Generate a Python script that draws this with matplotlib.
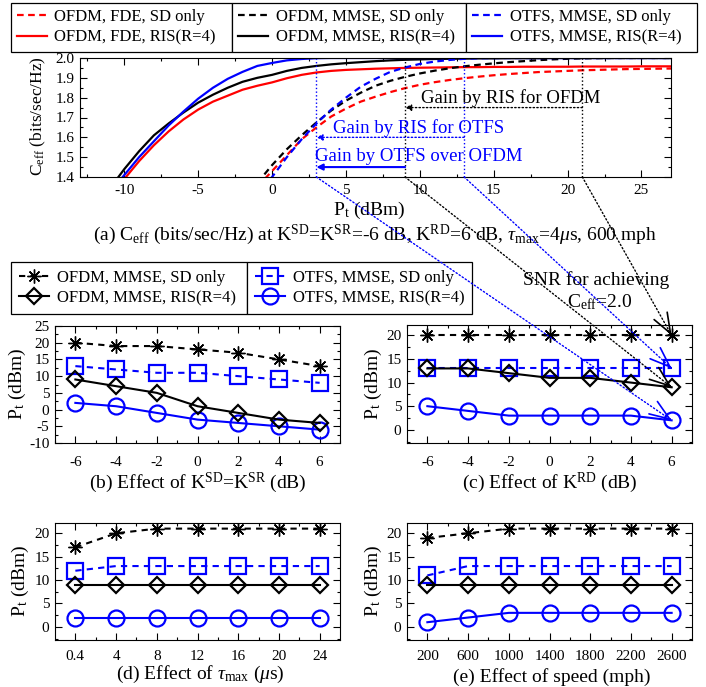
import numpy as np
import matplotlib
matplotlib.use('Agg')
import matplotlib.pyplot as plt
from matplotlib.lines import Line2D
from matplotlib.patches import ConnectionPatch
from matplotlib.ticker import MultipleLocator, FixedLocator

plt.rcParams['font.family'] = ['Liberation Serif', 'DejaVu Serif']
plt.rcParams['mathtext.fontset'] = 'custom'
plt.rcParams['mathtext.rm'] = 'Liberation Serif'
plt.rcParams['mathtext.it'] = 'Liberation Serif:italic'
plt.rcParams['axes.unicode_minus'] = False

W, H = 706, 687

# ---- (a) C_eff vs P_t (dBm) ----
pt_ris = [-11, -10, -9, -8, -7, -6, -5, -4, -3, -2, -1, 0, 1, 2, 3, 4, 5, 6, 7, 8,
          9, 10, 11, 12, 13, 14, 15, 16, 17, 18, 19, 20, 21, 22, 23, 24, 25, 26, 27]
fde_ris = [1.29, 1.39, 1.48, 1.56, 1.63, 1.69, 1.74, 1.78, 1.81, 1.84,
           1.86, 1.877, 1.898, 1.915, 1.927, 1.935, 1.94, 1.943, 1.946, 1.948,
           1.95, 1.951, 1.952, 1.953, 1.954, 1.954, 1.955, 1.955, 1.956, 1.956,
           1.956, 1.956, 1.957, 1.957, 1.957, 1.957, 1.958, 1.958, 1.958]
mmse_ris = [1.34, 1.44, 1.53, 1.61, 1.67, 1.725, 1.775, 1.815, 1.85, 1.88,
            1.90, 1.915, 1.935, 1.95, 1.96, 1.968, 1.974, 1.979, 1.984, 1.988,
            1.991, 1.993, 1.995, 1.996, 1.997, 1.998, 1.998, 1.999, 1.999, 1.999,
            2.0, 2.0, 2.0, 2.0, 2.0, 2.0, 2.0, 2.0, 2.0]
otfs_ris = [1.32, 1.41, 1.50, 1.58, 1.66, 1.73, 1.795, 1.85, 1.895, 1.93,
            1.96, 1.975, 1.988, 1.995, 1.999, 2.0, 2.0, 2.0, 2.0, 2.0,
            2.0, 2.0, 2.0, 2.0, 2.0, 2.0, 2.0, 2.0, 2.0, 2.0,
            2.0, 2.0, 2.0, 2.0, 2.0, 2.0, 2.0, 2.0, 2.0]

pt_sd = [-1, 0, 1, 2, 3, 4, 5, 6, 7, 8, 9, 10, 11, 12, 13, 14, 15, 16, 17, 18,
         19, 20, 21, 22, 23, 24, 25, 26, 27]
fde_sd = [1.35, 1.43, 1.51, 1.59, 1.65, 1.705, 1.745, 1.78, 1.805, 1.828,
          1.848, 1.865, 1.878, 1.889, 1.898, 1.906, 1.913, 1.919, 1.924, 1.929,
          1.932, 1.935, 1.938, 1.94, 1.942, 1.944, 1.945, 1.946, 1.947]
mmse_sd = [1.37, 1.46, 1.54, 1.61, 1.675, 1.735, 1.785, 1.825, 1.86, 1.885,
           1.905, 1.922, 1.936, 1.948, 1.958, 1.966, 1.973, 1.979, 1.984, 1.989,
           1.993, 1.996, 1.998, 1.999, 2.0, 2.0, 2.0, 2.0, 2.0]
otfs_sd = [1.30, 1.40, 1.50, 1.59, 1.67, 1.74, 1.80, 1.855, 1.895, 1.93,
           1.952, 1.97, 1.982, 1.99, 1.996, 1.999, 2.0, 2.0, 2.0, 2.0,
           2.0, 2.0, 2.0, 2.0, 2.0, 2.0, 2.0, 2.0, 2.0]

# P_t needed for C_eff = 2.0
snr_otfs_ris = 3
snr_ofdm_ris = 9
snr_otfs_sd = 13
snr_ofdm_sd = 21

# ---- (b)-(e) P_t (dBm) needed ----
k_sd = [-6, -4, -2, 0, 2, 4, 6]
b_ofdm_sd = [20, 19, 19, 18, 17, 15, 13]
b_otfs_sd = [13, 12, 11, 11, 10, 9, 8]
b_ofdm_ris = [9, 7, 5, 1, -1, -3, -4]
b_otfs_ris = [2, 1, -1, -3, -4, -5, -6]

k_rd = [-6, -4, -2, 0, 2, 4, 6]
c_ofdm_sd = [20, 20, 20, 20, 20, 20, 20]
c_otfs_sd = [13, 13, 13, 13, 13, 13, 13]
c_ofdm_ris = [13, 13, 12, 11, 11, 10, 9]
c_otfs_ris = [5, 4, 3, 3, 3, 3, 2]

tau_labels = ['0.4', '4', '8', '12', '16', '20', '24']
d_ofdm_sd = [17, 20, 21, 21, 21, 21, 21]
d_otfs_sd = [12, 13, 13, 13, 13, 13, 13]
d_ofdm_ris = [9, 9, 9, 9, 9, 9, 9]
d_otfs_ris = [2, 2, 2, 2, 2, 2, 2]

speed_labels = ['200', '600', '1000', '1400', '1800', '2200', '2600']
e_ofdm_sd = [19, 20, 21, 21, 21, 21, 21]
e_otfs_sd = [11, 13, 13, 13, 13, 13, 13]
e_ofdm_ris = [9, 9, 9, 9, 9, 9, 9]
e_otfs_ris = [1, 2, 3, 3, 3, 3, 3]

RED, BLUE, BLACK = '#ff0000', '#0000ff', '#000000'
DASH = (0, (3, 2))
STAR = (8, 2, 0)


def box(x0, y0, x1, y1):
    return [x0 / W, 1 - y1 / H, (x1 - x0) / W, (y1 - y0) / H]


def ftext(x, y, s, **kw):
    fig.text(x / W, 1 - y / H, s, **kw)


def style_ticks(ax, xpad=6):
    ax.tick_params(which='both', direction='in', top=True, right=True,
                   labelsize=11, width=0.8)
    ax.tick_params(which='major', length=5)
    ax.tick_params(which='minor', length=2.5)
    ax.tick_params(axis='x', pad=xpad)
    ax.tick_params(axis='y', pad=4)
    for s in ax.spines.values():
        s.set_linewidth(0.8)


fig = plt.figure(figsize=(7.06, 6.87), dpi=100)

# ---------------- panel (a) ----------------
ax_a = fig.add_axes(box(80, 58, 671, 177))
ax_a.plot(pt_sd, fde_sd, color=RED, ls=DASH, lw=1.6)
ax_a.plot(pt_ris, fde_ris, color=RED, lw=1.6)
ax_a.plot(pt_sd, mmse_sd, color=BLACK, ls=DASH, lw=1.6)
ax_a.plot(pt_ris, mmse_ris, color=BLACK, lw=1.6)
ax_a.plot(pt_sd, otfs_sd, color=BLUE, ls=DASH, lw=1.6)
ax_a.plot(pt_ris, otfs_ris, color=BLUE, lw=1.6)
ax_a.set_xlim(-13, 27)
ax_a.set_ylim(1.4, 2.0)
ax_a.xaxis.set_major_locator(MultipleLocator(5))
ax_a.xaxis.set_minor_locator(MultipleLocator(2.5))
ax_a.yaxis.set_major_locator(MultipleLocator(0.1))
ax_a.yaxis.set_minor_locator(MultipleLocator(0.05))
ax_a.yaxis.set_major_formatter(matplotlib.ticker.FormatStrFormatter('%.1f'))
style_ticks(ax_a, xpad=5)

for xv, col in [(snr_otfs_ris, BLUE), (snr_ofdm_ris, BLACK),
                (snr_otfs_sd, BLUE), (snr_ofdm_sd, BLACK)]:
    ax_a.plot([xv, xv], [1.4, 2.0], color=col, ls=':', lw=1)

ax_a.annotate('', xy=(snr_ofdm_ris, 1.75), xytext=(snr_ofdm_sd, 1.75),
              arrowprops=dict(arrowstyle='-|>', color=BLACK, ls=':', lw=1,
                              shrinkA=0, shrinkB=0, mutation_scale=9))
ax_a.annotate('', xy=(snr_otfs_ris, 1.6), xytext=(snr_otfs_sd, 1.6),
              arrowprops=dict(arrowstyle='-|>', color=BLUE, ls=':', lw=1,
                              shrinkA=0, shrinkB=0, mutation_scale=9))
ax_a.annotate('', xy=(snr_otfs_ris, 1.45), xytext=(snr_ofdm_ris, 1.45),
              arrowprops=dict(arrowstyle='-|>', color=BLUE, lw=1.5,
                              shrinkA=0, shrinkB=0, mutation_scale=9))
ax_a.text(10.1, 1.797, 'Gain by RIS for OFDM', color=BLACK, fontsize=13.5, va='center')
ax_a.text(4.1, 1.645, 'Gain by RIS for OTFS', color=BLUE, fontsize=13.5, va='center')
ax_a.text(2.9, 1.505, 'Gain by OTFS over OFDM', color=BLUE, fontsize=13.5, va='center')

ftext(38, 116, r'C$_{\rm eff}$ (bits/sec/Hz)', rotation=90, fontsize=12.5,
      ha='center', va='center')
ftext(369, 215, r'P$_{\rm t}$ (dBm)', fontsize=14, ha='center', va='baseline')
ftext(375, 240, r'(a) C$_{\rm eff}$ (bits/sec/Hz) at K$^{\rm SD}$=K$^{\rm SR}$=-6 dB, '
      r'K$^{\rm RD}$=6 dB, $\tau_{\rm max}$=4$\mu$s, 600 mph',
      fontsize=14, ha='center', va='baseline')

# top legend, three boxes side by side
leg_kw = dict(loc='upper left', mode='expand', borderaxespad=0, fontsize=12,
              handlelength=1.8, handletextpad=0.45, borderpad=0.36,
              labelspacing=0.28, fancybox=False, edgecolor='black', framealpha=1)
groups = [(RED, 'OFDM, FDE, SD only', 'OFDM, FDE, RIS(R=4)', 11, 232),
          (BLACK, 'OFDM, MMSE, SD only', 'OFDM, MMSE, RIS(R=4)', 232, 466),
          (BLUE, 'OTFS, MMSE, SD only', 'OTFS, MMSE, RIS(R=4)', 466, 697)]
for col, l1, l2, x0, x1 in groups:
    hs = [Line2D([], [], color=col, ls=DASH, lw=1.6), Line2D([], [], color=col, lw=1.6)]
    lg = fig.legend(hs, [l1, l2], bbox_to_anchor=(x0 / W, 1 - 52 / H, (x1 - x0) / W, 49 / H),
                    **leg_kw)
    lg.get_frame().set_linewidth(0.9)


# ---------------- panels (b)-(e) ----------------
def draw_panel(ax, x, s_ofdm_sd, s_otfs_sd, s_ofdm_ris, s_otfs_ris):
    ax.plot(x, s_ofdm_sd, color=BLACK, ls=(0, (3, 2.5)), lw=1.5, marker=STAR, ms=10, mew=1.0)
    ax.plot(x, s_otfs_sd, color=BLUE, ls=(0, (3, 2.5)), lw=1.5, marker='s', ms=11,
            mfc='none', mew=1.6)
    ax.plot(x, s_otfs_ris, color=BLUE, lw=1.5, marker='o', ms=11.5, mfc='none', mew=1.6)
    ax.plot(x, s_ofdm_ris, color=BLACK, lw=1.5, marker='D', ms=8, mfc='none', mew=1.6)


ax_b = fig.add_axes(box(55, 326, 340, 443))
draw_panel(ax_b, k_sd, b_ofdm_sd, b_otfs_sd, b_ofdm_ris, b_otfs_ris)
ax_b.set_xlim(-7, 7)
ax_b.set_ylim(-10, 25)
ax_b.xaxis.set_major_locator(MultipleLocator(2))
ax_b.xaxis.set_minor_locator(MultipleLocator(1))
ax_b.yaxis.set_major_locator(MultipleLocator(5))
ax_b.yaxis.set_minor_locator(MultipleLocator(2.5))
style_ticks(ax_b, xpad=9)

ax_c = fig.add_axes(box(407, 325, 692, 443))
draw_panel(ax_c, k_rd, c_ofdm_sd, c_otfs_sd, c_ofdm_ris, c_otfs_ris)
ax_c.set_xlim(-7, 7)
ax_c.set_ylim(-2.8, 22.2)
ax_c.xaxis.set_major_locator(MultipleLocator(2))
ax_c.xaxis.set_minor_locator(MultipleLocator(1))
ax_c.yaxis.set_major_locator(MultipleLocator(5))
ax_c.yaxis.set_minor_locator(MultipleLocator(2.5))
style_ticks(ax_c, xpad=9)

idx = np.arange(len(tau_labels))
for pos, labels, sd1, sd2, r1, r2 in [((55, 523, 340, 640), tau_labels, d_ofdm_sd, d_otfs_sd, d_ofdm_ris, d_otfs_ris),
                                      ((407, 523, 692, 640), speed_labels, e_ofdm_sd, e_otfs_sd, e_ofdm_ris, e_otfs_ris)]:
    ax = fig.add_axes(box(*pos))
    draw_panel(ax, idx, sd1, sd2, r1, r2)
    ax.set_xlim(-0.5, len(labels) - 0.5)
    ax.set_ylim(-2.8, 22.2)
    ax.xaxis.set_major_locator(FixedLocator(idx))
    ax.set_xticklabels(labels)
    ax.xaxis.set_minor_locator(FixedLocator(idx[:-1] + 0.5))
    ax.yaxis.set_major_locator(MultipleLocator(5))
    ax.yaxis.set_minor_locator(MultipleLocator(2.5))
    style_ticks(ax, xpad=7)

ylab = r'P$_{\rm t}$ (dBm)'
for x, y in [(17, 384), (373, 384), (20, 581), (373, 581)]:
    ftext(x, y, ylab, rotation=90, fontsize=14, ha='center', va='center')
ftext(198, 488, r'(b) Effect of K$^{\rm SD}$=K$^{\rm SR}$ (dB)', fontsize=14, ha='center', va='baseline')
ftext(550, 488, r'(c) Effect of K$^{\rm RD}$ (dB)', fontsize=14, ha='center', va='baseline')
ftext(200, 679, r'(d) Effect of $\tau_{\rm max}$ ($\mu$s)', fontsize=14, ha='center', va='baseline')
ftext(552, 682, '(e) Effect of speed (mph)', fontsize=14, ha='center', va='baseline')

# middle legend (two boxes)
leg2_kw = dict(loc='upper left', mode='expand', borderaxespad=0, fontsize=12,
               handlelength=1.8, handletextpad=0.45, borderpad=0.5,
               labelspacing=0.22, fancybox=False, edgecolor='black', framealpha=1)
h_ofdm_sd = Line2D([], [], color=BLACK, ls=(0, (3, 2.5)), lw=1.5, marker=STAR, ms=10, mew=1.0)
h_ofdm_ris = Line2D([], [], color=BLACK, lw=1.5, marker='D', ms=8, mfc='none', mew=1.6)
h_otfs_sd = Line2D([], [], color=BLUE, ls=(0, (3, 2.5)), lw=1.5, marker='s', ms=11, mfc='none', mew=1.6)
h_otfs_ris = Line2D([], [], color=BLUE, lw=1.5, marker='o', ms=11.5, mfc='none', mew=1.6)
for hs, labs, x0, x1 in [([h_ofdm_sd, h_ofdm_ris], ['OFDM, MMSE, SD only', 'OFDM, MMSE, RIS(R=4)'], 11, 247),
                         ([h_otfs_sd, h_otfs_ris], ['OTFS, MMSE, SD only', 'OTFS, MMSE, RIS(R=4)'], 247, 472)]:
    lg = fig.legend(hs, labs, bbox_to_anchor=(x0 / W, 1 - 317 / H, (x1 - x0) / W, 55 / H),
                    numpoints=1, **leg2_kw)
    lg.get_frame().set_linewidth(0.9)

ftext(596, 280, 'SNR for achieving', fontsize=14, ha='center', va='center')
ftext(600, 302, r'C$_{\rm eff}$=2.0', fontsize=14, ha='center', va='center')

# dotted connectors from panel (a) to the K^RD = 6 points of panel (c)
links = [(snr_otfs_ris, c_otfs_ris[-1], BLUE), (snr_ofdm_ris, c_ofdm_ris[-1], BLACK),
         (snr_otfs_sd, c_otfs_sd[-1], BLUE), (snr_ofdm_sd, c_ofdm_sd[-1], BLACK)]
for xa, yc, col in links:
    con = ConnectionPatch(xyA=(xa, 1.4), coordsA='data', axesA=ax_a,
                          xyB=(k_rd[-1], yc), coordsB='data', axesB=ax_c,
                          color=col, lw=1, ls=':', zorder=10)
    fig.add_artist(con)
    pA = ax_a.transData.transform((xa, 1.4))
    pB = ax_c.transData.transform((k_rd[-1], yc))
    d = (pB - pA) / np.hypot(*(pB - pA))
    tail = ax_c.transData.inverted().transform(pB - 2 * d)
    ax_c.annotate('', xy=(k_rd[-1], yc), xytext=tail, annotation_clip=False,
                  arrowprops=dict(arrowstyle='->,head_length=0.8,head_width=0.3',
                                  color=col, lw=1.2, shrinkA=0, shrinkB=0,
                                  mutation_scale=18))

fig.savefig('out.png', dpi=100)
